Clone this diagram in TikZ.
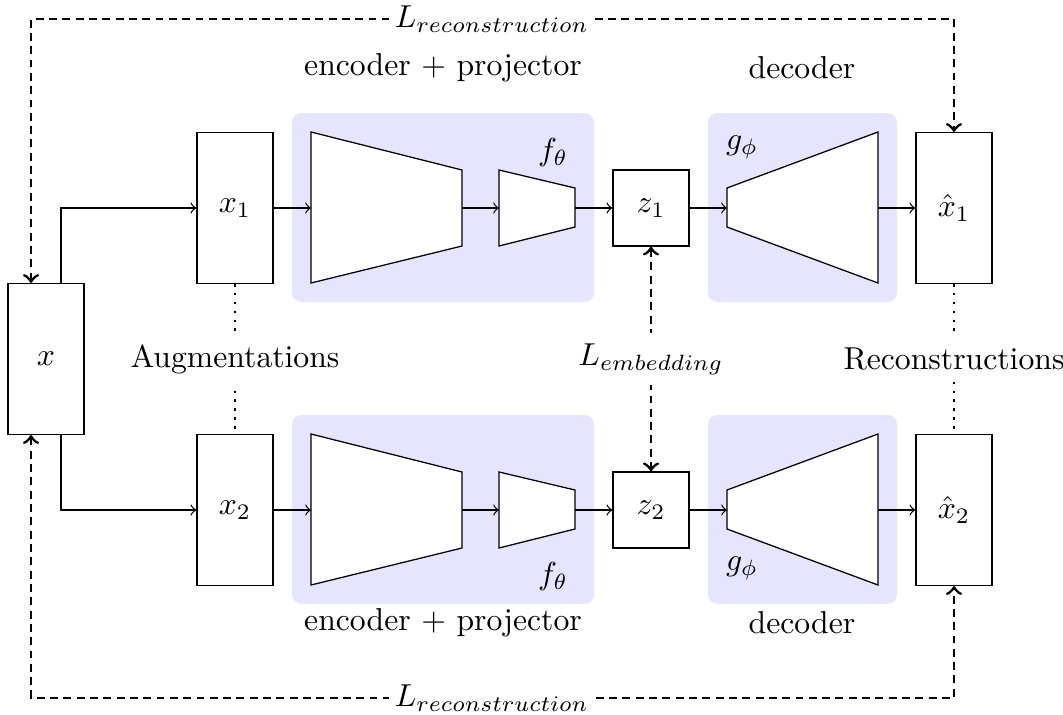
\documentclass[tikz,border=0pt]{standalone}
\usepackage{amsmath}
\usepackage{amssymb}
\usepackage{tikz}

\tikzset{
  blockbox/.style={draw, fill=white, minimum width=24pt, minimum height=47.6pt, inner sep=0pt},
  latentbox/.style={draw, fill=white, minimum width=24pt, minimum height=24pt, inner sep=0pt},
  stagebg/.style={fill=blue!10, rounded corners=3pt},
  lossline/.style={line width=0.9pt, dash pattern=on 2.5pt off 1.7pt},
  losslabel/.style={fill=white, inner sep=2pt},
}

\begin{document}
\begin{tikzpicture}[x=0.3155pt,y=-0.3155pt]
\useasboundingbox (0,0) rectangle (1063,714);

% two branches, the second one shifted down
\foreach \dy/\r in {0/1,302/2}{
  %Backgrounds
  \fill[stagebg] (292,{113+\dy}) rectangle (594,{302+\dy});
  \fill[stagebg] (708,{113+\dy}) rectangle (897,{302+\dy});
  %Encoder
  \draw[fill=white] (311,{132+\dy}) -- (462,{170+\dy}) -- (462,{246+\dy}) -- (311,{283+\dy}) -- cycle;
  %Projector
  \draw[fill=white] (499,{170+\dy}) -- (575,{188+\dy}) -- (575,{227+\dy}) -- (499,{246+\dy}) -- cycle;
  %Decoder
  \draw[fill=white] (727,{188+\dy}) -- (878,{132+\dy}) -- (878,{283+\dy}) -- (727,{227+\dy}) -- cycle;
  \coordinate (encin\r) at (311,{208+\dy});
  \coordinate (encout\r) at (462,{208+\dy});
  \coordinate (projin\r) at (499,{208+\dy});
  \coordinate (projout\r) at (575,{208+\dy});
  \coordinate (decin\r) at (727,{208+\dy});
  \coordinate (decout\r) at (878,{208+\dy});
}

% Text Node
\node (enctop) at (443,68) {encoder + projector};
\node (encbot) at (443,623) {encoder + projector};
\node (dectop) at (802,68) {decoder};
\node (decbot) at (802,623) {decoder};
\node (f1) at (553,153) {$f_\theta$};
\node (f2) at (553,577) {$f_\theta$};
\node (g1) at (742,147) {$g_\phi$};
\node (g2) at (742,568) {$g_\phi$};

% Data boxes
\node[blockbox] (x) at (46,359) {$x$};
\node[blockbox] (x1) at (235,208) {$x_1$};
\node[blockbox] (x2) at (235,510) {$x_2$};
\node[latentbox] (z1) at (651,208) {$z_1$};
\node[latentbox] (z2) at (651,510) {$z_2$};
\node[blockbox] (xh1) at (954,208) {$\hat{x}_1$};
\node[blockbox] (xh2) at (954,510) {$\hat{x}_2$};

% Forward path
\draw[->] ([xshift=4.73pt]x.north) |- (x1.west);
\draw[->] ([xshift=4.73pt]x.south) |- (x2.west);
\foreach \r in {1,2}{
  \draw[->] (x\r.east) -- (encin\r);
  \draw[->] (encout\r) -- (projin\r);
  \draw[->] (projout\r) -- (z\r.west);
  \draw[->] (z\r.east) -- (decin\r);
  \draw[->] (decout\r) -- (xh\r.west);
}

% Augmentations / reconstructions
\draw[dotted, thick] (x1.south) -- (x2.north);
\draw[dotted, thick] (xh1.south) -- (xh2.north);
\node[fill=white] (aug) at (235,359) {Augmentations};
\node[fill=white] (rec) at (954,359) {Reconstructions};

% Losses
\coordinate (rectop) at (492,19);
\coordinate (recbot) at (492,698);
\draw[lossline,<->] ([xshift=-4.73pt]x.north) |- (rectop) -| (xh1.north);
\draw[lossline,<->] ([xshift=-4.73pt]x.south) |- (recbot) -| (xh2.south);
\draw[lossline,<->] (z1.south) -- (z2.north);
\node[losslabel] (lrec1) at (rectop) {$L_{reconstruction}$};
\node[losslabel] (lrec2) at (recbot) {$L_{reconstruction}$};
\node[fill=white] (lemb) at (651,359) {$L_{embedding}$};

\end{tikzpicture}
\end{document}
